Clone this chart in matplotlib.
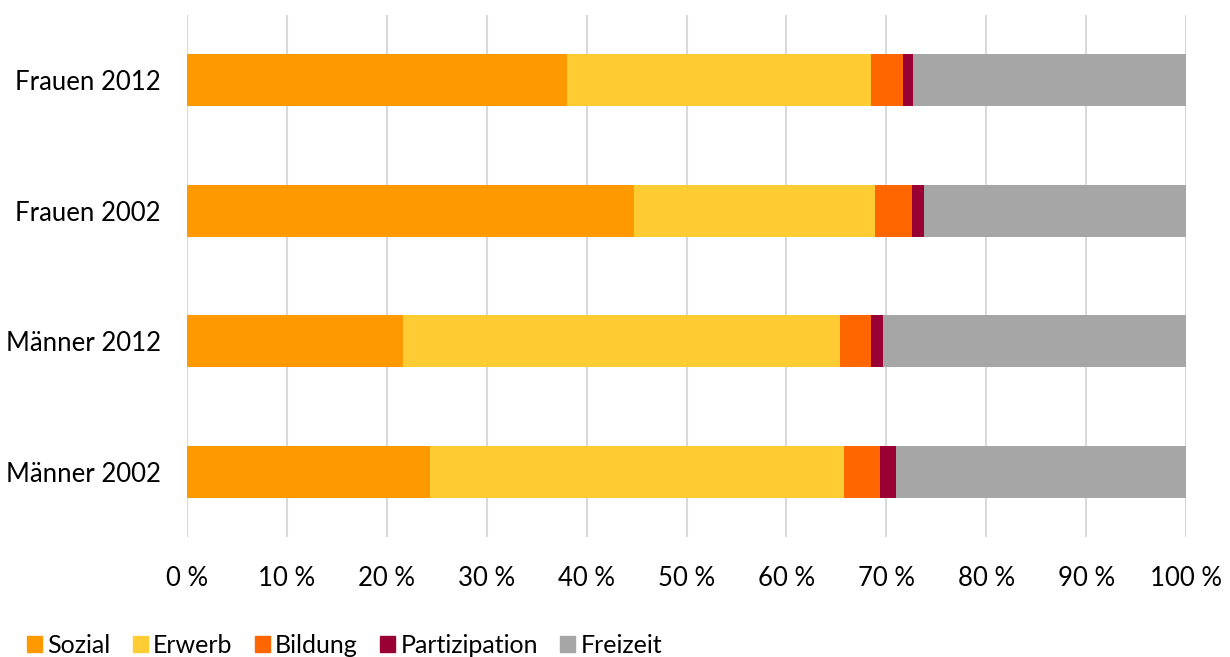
import numpy as np
import matplotlib.pyplot as plt
from matplotlib.patches import Patch

plt.rcParams['font.family'] = ['Lato', 'DejaVu Sans']

groups = ["Männer 2002", "Männer 2012", "Frauen 2002", "Frauen 2012"]
categories = ["Sozial", "Erwerb", "Bildung", "Partizipation", "Freizeit"]
sozial = [24.3, 21.6, 44.7, 38.0]
erwerb = [41.5, 43.8, 24.2, 30.5]
bildung = [3.6, 3.1, 3.7, 3.2]
partizipation = [1.6, 1.2, 1.2, 1.0]
freizeit = [29.0, 30.3, 26.2, 27.3]
colors = ["#FF9900", "#FFCC33", "#FF6600", "#990033", "#A6A6A6"]
xticks = np.arange(0, 101, 10)

fig = plt.figure(figsize=(12.3, 6.57), dpi=100)
ax = fig.add_axes([187/1230, 1 - 537/657, 999/1230, 522/657])

y = np.arange(len(groups))
left = np.zeros(len(groups))
for name, vals, c in zip(categories, [sozial, erwerb, bildung, partizipation, freizeit], colors):
    ax.barh(y, vals, left=left, height=0.4, color=c, label=name, zorder=3)
    left += np.array(vals)

ax.set_xlim(0, 100)
ax.set_ylim(-0.5, len(groups) - 0.5)
ax.set_xticks(xticks)
ax.set_xticklabels([f"{t} %" for t in xticks], fontsize=18.5)
ax.set_yticks(y)
ax.set_yticklabels(groups, fontsize=18.5)
ax.tick_params(length=0)
ax.tick_params(axis='x', pad=21)
ax.tick_params(axis='y', pad=19)
ax.grid(axis='x', color='#D9D9D9', linewidth=1.5, zorder=0)
for s in ax.spines.values():
    s.set_visible(False)

handles = [Patch(color=c) for c in colors]
fig.legend(handles, categories, loc='lower left', bbox_to_anchor=(0.004, -0.034),
           ncol=5, frameon=False, fontsize=18, handlelength=0.6, handleheight=0.6,
           handletextpad=0.2, columnspacing=0.9)

fig.savefig("out.png", dpi=100)
